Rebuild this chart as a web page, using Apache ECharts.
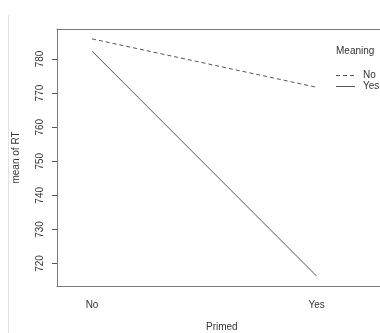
<!DOCTYPE html>
<html>
<head>
<meta charset="utf-8">
<script src="https://cdn.jsdelivr.net/npm/echarts@6/dist/echarts.min.js"></script>
<style>
  html, body { margin: 0; padding: 0; background: #fff; }
  #chart { width: 380px; height: 333px; }
</style>
</head>
<body>
<div id="chart"></div>
<script>
// Interaction plot: mean reaction time by Primed, one trace per Meaning level
const primedLevels = ['No', 'Yes'];
const meaningLevels = ['No', 'Yes'];
const meanRT_meaningNo = [785.9, 771.7];
const meanRT_meaningYes = [782.3, 716.3];
const yTicks = [720, 730, 740, 750, 760, 770, 780];

const lineColor = '#555';
const boxColor = '#7a7a7a';
const textColor = '#333';
const font = 'Liberation Sans, Arial, sans-serif';
const dashPattern = [4, 3];

function toPoints(values) {
  return values.map((v, i) => [i + 1, v]);
}

const chart = echarts.init(document.getElementById('chart'), null, { renderer: 'canvas' });

const xRange = { min: 0.844, max: 2.282 };

chart.setOption({
  animation: false,
  backgroundColor: '#fff',
  textStyle: { fontFamily: font, color: textColor },
  grid: { left: 57, top: 29, right: 0, bottom: 47 },
  xAxis: [
    {
      type: 'value', position: 'bottom',
      min: xRange.min, max: xRange.max,
      splitLine: { show: false },
      axisLine: { show: true, lineStyle: { color: boxColor, width: 1 } },
      axisTick: { show: false },
      axisLabel: {
        customValues: [1, 2],
        formatter: v => primedLevels[Math.round(v) - 1],
        fontSize: 10, color: textColor, margin: 14, fontFamily: font
      }
    },
    {
      // upper edge of the plot frame
      type: 'value', position: 'top',
      min: xRange.min, max: xRange.max,
      splitLine: { show: false },
      axisLine: { show: true, lineStyle: { color: boxColor, width: 1 } },
      axisTick: { show: false },
      axisLabel: { show: false }
    }
  ],
  yAxis: {
    type: 'value',
    min: 713.4, max: 788.8,
    splitLine: { show: false },
    axisLine: { show: true, lineStyle: { color: boxColor, width: 1 } },
    axisTick: { show: true, customValues: yTicks, length: 5, lineStyle: { color: lineColor } },
    axisLabel: {
      customValues: yTicks, rotate: 90, fontSize: 10, color: textColor, margin: 12, fontFamily: font
    },
    name: 'mean of RT',
    nameLocation: 'middle',
    nameRotate: 90,
    nameGap: 36,
    nameTextStyle: { fontSize: 10, color: textColor, fontFamily: font }
  },
  series: [
    {
      name: meaningLevels[0], type: 'line', symbol: 'none', xAxisIndex: 0,
      data: toPoints(meanRT_meaningNo),
      lineStyle: { color: lineColor, width: 1, type: dashPattern }
    },
    {
      name: meaningLevels[1], type: 'line', symbol: 'none', xAxisIndex: 0,
      data: toPoints(meanRT_meaningYes),
      lineStyle: { color: lineColor, width: 1, type: 'solid' }
    }
  ],
  graphic: [
    { type: 'line', shape: { x1: 8.5, y1: 15, x2: 8.5, y2: 333 }, style: { stroke: '#e2e2e2', lineWidth: 1 } },
    // legend for Meaning
    { type: 'text', left: 336, top: 46, style: { text: 'Meaning', fontSize: 10, fill: textColor, fontFamily: font } },
    { type: 'line', shape: { x1: 336, y1: 75.5, x2: 355, y2: 75.5 }, style: { stroke: lineColor, lineWidth: 1, lineDash: dashPattern } },
    { type: 'line', shape: { x1: 336, y1: 86.5, x2: 355, y2: 86.5 }, style: { stroke: lineColor, lineWidth: 1 } },
    { type: 'text', x: 363, y: 75.5, style: { text: meaningLevels[0], fontSize: 10, fill: textColor, fontFamily: font, verticalAlign: 'middle' } },
    { type: 'text', x: 363, y: 86.5, style: { text: meaningLevels[1], fontSize: 10, fill: textColor, fontFamily: font, verticalAlign: 'middle' } },
    { type: 'text', left: 206, top: 322, style: { text: 'Primed', fontSize: 10, fill: textColor, fontFamily: font } }
  ]
});
</script>
</body>
</html>
